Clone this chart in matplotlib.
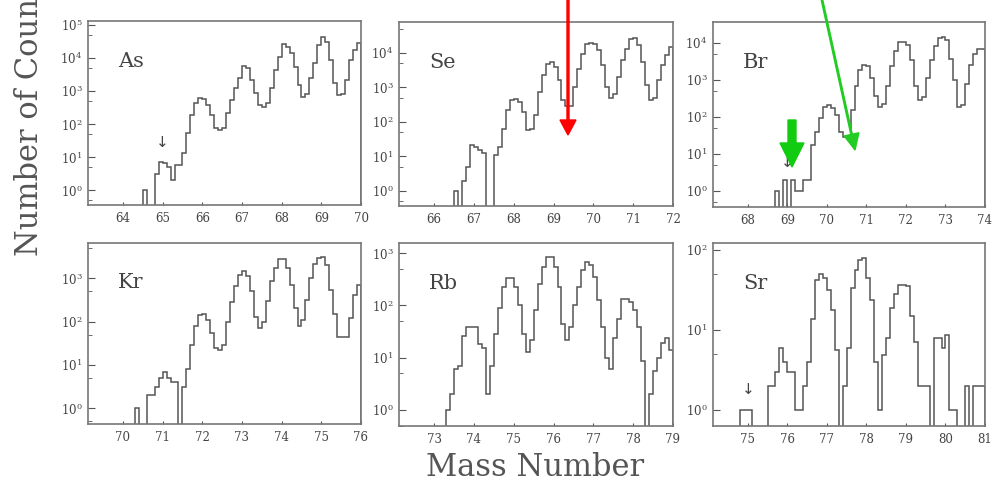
import numpy as np
import matplotlib
matplotlib.use("Agg")
import matplotlib.pyplot as plt
import matplotlib.ticker as ticker
from matplotlib.patches import FancyArrow
from matplotlib.transforms import IdentityTransform

plt.rcParams['font.family'] = 'DejaVu Serif'
plt.rcParams['mathtext.fontset'] = 'dejavuserif'

# counts per 0.1 mass-unit bin, starting at the given mass
as_start = 64.0
as_counts = [0, 0, 0, 0, 0, 1, 0, 0, 3, 7,
             6.5, 5, 2, 5.7, 5.7, 13, 52, 190, 420, 600,
             570, 380, 190, 74, 68, 74, 210, 530, 1200, 2400,
             5700, 4900, 2150, 850, 380, 320, 420, 1200, 4300, 11000,
             26000, 22000, 14000, 5500, 1500, 680, 790, 2400, 6900, 25000,
             44000, 31000, 8700, 1700, 760, 820, 2150, 8700, 17000, 28000]

se_start = 66.0
se_counts = [0, 0, 0, 0, 0, 1, 0, 2, 5, 22,
             19, 15, 13, 0, 0, 11, 19, 64, 220, 420,
             460, 380, 195, 57, 64, 155, 740, 2250, 4900, 5400,
             3900, 1600, 420, 285, 300, 1000, 3500, 9600, 18000, 19000,
             18000, 12000, 4400, 1000, 480, 660, 2000, 6100, 13000, 26000,
             28000, 17000, 5500, 1150, 420, 480, 1600, 4400, 8500, 15000]

br_start = 68.0
br_counts = [0, 0, 0, 0, 0, 0, 0, 1, 0, 2,
             0, 2, 1, 1, 2, 2, 18, 40, 92, 190,
             210, 170, 113, 40, 29, 29, 155, 700, 1900, 2600,
             2400, 1100, 360, 190, 230, 680, 2400, 6000, 10500, 10500,
             9000, 3500, 700, 290, 350, 1100, 3500, 8500, 14000, 15000,
             12000, 3700, 1000, 190, 210, 800, 2500, 5000, 7000, 7000]

kr_start = 70.0
kr_counts = [0, 0, 0, 1, 0, 0, 2, 2, 3, 5,
             7, 5, 4, 4, 0, 3, 8, 28, 80, 140,
             150, 110, 55, 25, 22, 28, 100, 280, 650, 1200,
             1500, 1100, 510, 130, 70, 95, 300, 840, 1700, 2800,
             2800, 1700, 700, 210, 80, 110, 320, 1000, 2100, 3000,
             3100, 2000, 540, 150, 45, 45, 45, 120, 400, 700]

rb_start = 73.0
rb_counts = [0, 0, 0, 1, 2, 6, 7, 26, 38, 38,
             38, 18, 15, 2, 7, 28, 87, 225, 330, 330,
             225, 100, 28, 13, 22, 80, 260, 550, 840, 840,
             550, 225, 44, 22, 38, 100, 225, 475, 690, 590,
             355, 125, 38, 10, 6, 24, 55, 135, 135, 115,
             80, 38, 8.6, 0, 2, 5.5, 10, 19, 24, 14]

sr_start = 74.8
sr_counts = [1, 1, 1, 0, 0, 0, 0, 2, 2, 3,
             5.9, 4, 3, 3, 1, 1, 2, 4, 13.7, 42,
             50, 45, 32, 18, 5.6, 0, 2, 5.9, 33, 56,
             75, 80, 44, 24, 4, 1, 4.9, 7.9, 18.6, 28,
             36, 36, 35, 15, 7, 2, 2, 2, 0, 7.9,
             7.9, 5.9, 8.7, 1, 1, 0, 0, 2, 0, 2,
             2, 2]

elements = ['As', 'Se', 'Br', 'Kr', 'Rb', 'Sr']
starts = [as_start, se_start, br_start, kr_start, rb_start, sr_start]
counts = [as_counts, se_counts, br_counts, kr_counts, rb_counts, sr_counts]
x_first_tick = [64, 66, 68, 70, 73, 75]
y_limits = [(0.355, 1.32e5), (0.367, 7.9e4), (0.37, 3.7e4),
            (0.43, 6500), (0.49, 1560), (0.63, 122)]
y_top_decade = [5, 4, 4, 3, 3, 2]
# small "↓" markers: mass, height as axes fraction
arrow_marks = {'As': (65.0, 0.34), 'Br': (69.0, 0.24), 'Sr': (75.0, 0.2)}

W, H = 992, 482
fig = plt.figure(figsize=(W / 100, H / 100), dpi=100)

# axes boxes in pixels: left, top, right, bottom
boxes = [(88, 21, 361, 205), (399, 22, 673, 206), (713, 22, 985, 207),
         (88, 243, 361, 424), (399, 243, 673, 426), (713, 243, 985, 426)]

line_col = '#555555'
for i, el in enumerate(elements):
    l, t, r, b = boxes[i]
    ax = fig.add_axes([l / W, (H - b) / H, (r - l) / W, (b - t) / H])
    c = np.array(counts[i], dtype=float)
    edges = starts[i] + 0.1 * np.arange(len(c) + 1)
    floor = 1e-3
    ax.stairs(np.where(c > 0, c, floor), edges, baseline=floor,
              color=line_col, linewidth=1.1)
    ax.set_yscale('log')
    ax.set_ylim(*y_limits[i])
    x0 = x_first_tick[i]
    ax.set_xlim(x0 - 0.88, x0 + 6)
    ax.set_xticks(np.arange(x0, x0 + 7))
    ax.xaxis.set_major_formatter(ticker.FormatStrFormatter('%d'))
    ax.set_yticks([10.0 ** k for k in range(0, y_top_decade[i] + 1)])
    ax.yaxis.set_minor_locator(ticker.LogLocator(base=10, subs=(5,)))
    ax.yaxis.set_minor_formatter(ticker.NullFormatter())
    ax.tick_params(axis='both', which='both', direction='in',
                   color=line_col, labelcolor='#444444', labelsize=8.5)
    ax.tick_params(axis='y', which='major', length=5, pad=4)
    ax.tick_params(axis='y', which='minor', length=3)
    ax.tick_params(axis='x', which='major', length=2, pad=5)
    ax.tick_params(axis='x', which='minor', length=0)
    for s in ax.spines.values():
        s.set_color('#777777')
        s.set_linewidth(1.2)
    ax.text(0.11, 0.78, el, transform=ax.transAxes, fontsize=15,
            color='#444444', ha='left', va='center')
    if el in arrow_marks:
        mx, my = arrow_marks[el]
        ax.text(mx, my, '\u2193', transform=ax.get_xaxis_transform(),
                fontsize=11, color='#444444', ha='center', va='center',
                family='DejaVu Sans')

fig.text(535 / W, 1 - 467 / H, 'Mass Number', fontsize=22, color='#555555',
         ha='center', va='center')
# the y label runs off the top edge, as in the cropped original
fig.text(30 / W, 1 - 256 / H, 'Number of Counts', fontsize=22, color='#555555',
         rotation=90, ha='center', va='bottom')

# coloured arrows drawn over the figure (pixel coordinates)
idt = IdentityTransform()
fig.add_artist(FancyArrow(568, H, 0, -135, width=2, head_width=16, head_length=15,
                          length_includes_head=True, color='#ff0000',
                          transform=idt))
fig.add_artist(FancyArrow(822, H, 33, -150, width=1.5, head_width=15,
                          head_length=16, length_includes_head=True,
                          color='#22cc22', transform=idt))
fig.add_artist(FancyArrow(792, H - 120, 0, -47, width=8, head_width=24,
                          head_length=24, length_includes_head=True,
                          color='#11cc11', transform=idt))

fig.savefig('out.png', dpi=100)
